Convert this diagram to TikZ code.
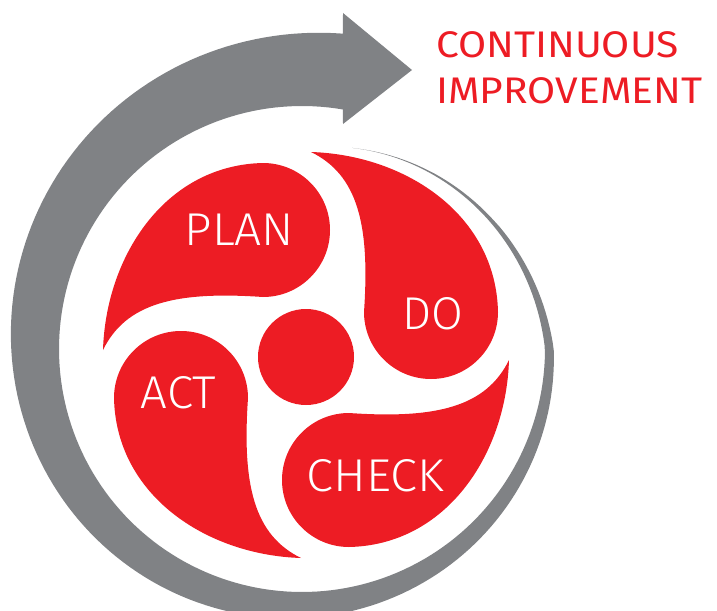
\documentclass[tikz,border=0pt]{standalone}
\usepackage{graphicx}
\usepackage{fontspec}
\setmainfont{Fira Sans}
\newfontfamily\lightfont{Fira Sans Light}
\definecolor{pdcared}{HTML}{ED1C24}
\definecolor{pdcagray}{HTML}{808285}
\tikzset{
  lbl/.style={text=white, font=\lightfont\fontsize{46}{46}\selectfont, inner sep=0pt, anchor=base},
  ttl/.style={text=pdcared, font=\fontsize{37}{37}\selectfont, inner sep=0pt, anchor=base west},
  petal/.style={fill=pdcared},
  spiral/.style={fill=pdcagray}
}
\begin{document}
\begin{tikzpicture}[x=1pt,y=1pt,
  declare function={ri(\t)=(\t<0)*(243+0.47*\t)+(\t>=0)*243;
                     wd(\t)=75*pow(max((\t+76)/353.4,0.0001),1.4);}]
\useasboundingbox (0,0) rectangle (717,-610);
% grey spiral arrow
\fill[spiral] (343,-13) -- (412,-70) -- (343,-124)
  -- plot[domain=279.7:-76,samples=200,variable=\t] ({302+ri(\t)*cos(\t)},{-349-ri(\t)*sin(\t)})
  -- plot[domain=-76:277.4,samples=200,variable=\t] ({302+(ri(\t)+wd(\t))*cos(\t)},{-349-(ri(\t)+wd(\t))*sin(\t)})
  -- cycle;
% red petals
\begin{scope}[shift={(306,-355)}]
  \foreach \r in {0,-90,-180,-270} {
    \fill[petal, rotate=\r] (-203,5) .. controls (-200,100) and (-140,190) .. (-43,192)
      arc[start angle=90,end angle=-90,radius=67]
      .. controls (-130,64) and (-180,52) .. (-203,5) -- cycle;
  }
  \fill[petal] (0,-2) circle[radius=48];
\end{scope}
% labels
\node[lbl] (plan) at (239.5,-245) {\scalebox{1.04}[1]{PLAN}};
\node[lbl] (do) at (433,-329) {DO};
\node[lbl] (check) at (375.5,-491) {\scalebox{1.06}[1]{CHECK}};
\node[lbl] (act) at (178.5,-408) {\scalebox{1.03}[1]{ACT}};
\node[ttl] (t1) at (436,-57) {\scalebox{1.1}[1]{CONTINUOUS}};
\node[ttl] (t2) at (436,-103) {\scalebox{1.1}[1]{IMPROVEMENT}};
\end{tikzpicture}
\end{document}
